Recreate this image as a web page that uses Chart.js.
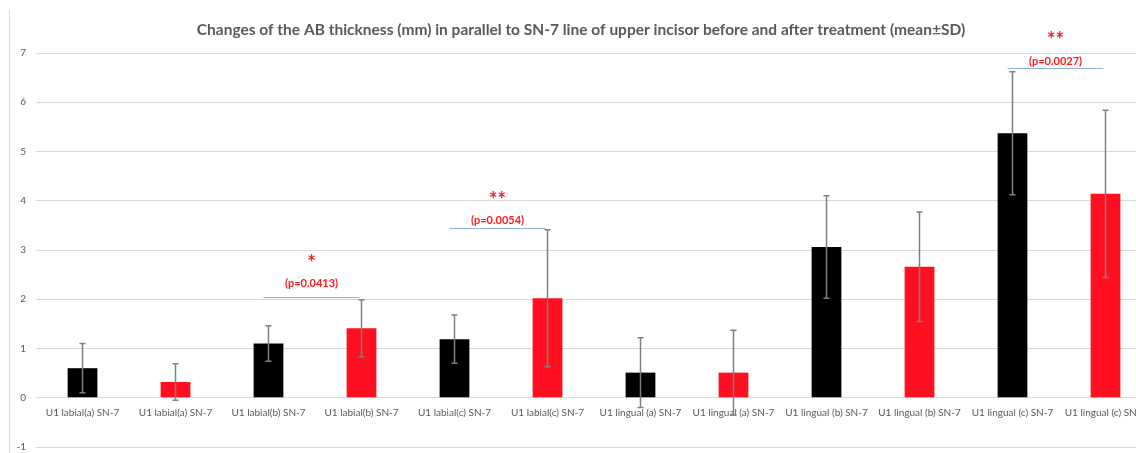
<!DOCTYPE html>
<html>
<head>
<meta charset="utf-8">
<script src="https://cdn.jsdelivr.net/npm/chart.js@4/dist/chart.umd.min.js"></script>
<style>
  html, body { margin: 0; padding: 0; background: #fff; overflow: hidden; }
  #wrap { position: relative; width: 1160px; height: 453px; overflow: hidden; }
  #frame { position: absolute; left: 9px; top: 10px; bottom: 0; border-left: 1px solid #d9d9d9; }
</style>
</head>
<body>
<div id="wrap">
  <div id="frame"></div>
  <canvas id="abChart" width="1160" height="463"></canvas>
</div>
<script>
// categories (before = black, after = red)
const categories = [
  'U1 labial(a) SN-7', 'U1 labial(a) SN-7',
  'U1 labial(b) SN-7', 'U1 labial(b) SN-7',
  'U1 labial(c) SN-7', 'U1 labial(c) SN-7',
  'U1 lingual (a) SN-7', 'U1 lingual (a) SN-7',
  'U1 lingual (b) SN-7', 'U1 lingual (b) SN-7',
  'U1 lingual (c) SN-7', 'U1 lingual (c) SN-7'
];
const meanValues = [0.60, 0.32, 1.10, 1.41, 1.19, 2.02, 0.51, 0.51, 3.06, 2.66, 5.37, 4.14];
const sdValues = [0.50, 0.37, 0.36, 0.58, 0.49, 1.39, 0.71, 0.86, 1.04, 1.11, 1.25, 1.70];
const barColors = ['#000000', '#ff0f1f', '#000000', '#ff0f1f', '#000000', '#ff0f1f',
                   '#000000', '#ff0f1f', '#000000', '#ff0f1f', '#000000', '#ff0f1f'];
const yTicks = [-1, 0, 1, 2, 3, 4, 5, 6, 7];

// significance marks: first bar index of pair, line level, text level, star level
const sigFrom = [2, 4, 10];
const sigLine = [2.055, 3.44, 6.70];
const sigTextAt = [2.33, 3.59, 6.83];
const sigStarAt = [2.80, 4.08, 7.33];
const sigText = ['(p=0.0413)', '(p=0.0054)', '(p=0.0027)'];
const sigStars = ['*', '**', '**'];

// error bars (mean ± SD)
const errorBars = {
  id: 'errorBars',
  afterDatasetsDraw(chart) {
    const ctx = chart.ctx;
    const x = chart.scales.x, y = chart.scales.y;
    ctx.save();
    ctx.strokeStyle = '#7f7f7f';
    ctx.lineWidth = 1.5;
    meanValues.forEach((m, i) => {
      const cx = x.getPixelForValue(i);
      const top = y.getPixelForValue(m + sdValues[i]);
      const bot = y.getPixelForValue(m - sdValues[i]);
      ctx.beginPath();
      ctx.moveTo(cx, top); ctx.lineTo(cx, bot);
      ctx.moveTo(cx - 3, top); ctx.lineTo(cx + 3, top);
      ctx.moveTo(cx - 3, bot); ctx.lineTo(cx + 3, bot);
      ctx.stroke();
    });
    ctx.restore();
  }
};

// significance lines with p-values
const sigMarks = {
  id: 'sigMarks',
  afterDraw(chart) {
    const ctx = chart.ctx;
    const x = chart.scales.x, y = chart.scales.y;
    ctx.save();
    ctx.textAlign = 'center';
    ctx.textBaseline = 'middle';
    sigFrom.forEach((i, k) => {
      const x1 = x.getPixelForValue(i) - 5;
      const x2 = x.getPixelForValue(i + 1) - 2;
      const ly = Math.round(y.getPixelForValue(sigLine[k])) + 0.5;
      const mid = (x1 + x2) / 2;
      ctx.strokeStyle = '#8fb4e3';
      ctx.lineWidth = 1;
      ctx.beginPath();
      ctx.moveTo(x1, ly); ctx.lineTo(x2, ly);
      ctx.stroke();
      ctx.fillStyle = '#ff1a1a';
      ctx.font = 'bold 11px Lato, "Open Sans", sans-serif';
      ctx.fillText(sigText[k], mid, y.getPixelForValue(sigTextAt[k]));
      ctx.font = 'bold 20px Lato, "Open Sans", sans-serif';
      ctx.fillText(sigStars[k], mid, y.getPixelForValue(sigStarAt[k]) + 4);
    });
    ctx.restore();
  }
};

const ctx = document.getElementById('abChart').getContext('2d');
new Chart(ctx, {
  type: 'bar',
  data: {
    labels: categories,
    datasets: [{
      data: meanValues,
      backgroundColor: barColors,
      borderWidth: 0,
      barPercentage: 0.32,
      categoryPercentage: 1
    }]
  },
  options: {
    responsive: false,
    animation: false,
    layout: { padding: { left: 10, right: 8, top: 12, bottom: 6 } },
    plugins: {
      legend: { display: false },
      tooltip: { enabled: false },
      title: {
        display: true,
        text: 'Changes of the AB thickness (mm) in parallel to SN-7 line of upper incisor before and after treatment (mean±SD)',
        color: '#595959',
        font: { family: 'Lato, "Open Sans", sans-serif', size: 15.5, weight: 'bold', lineHeight: 1.2 },
        padding: { top: 8.7, bottom: 13.7 }
      }
    },
    scales: {
      x: {
        position: { y: 0 },
        grid: { display: false, drawTicks: false },
        border: { display: false },
        ticks: {
          color: '#595959',
          font: { family: 'Lato, "Open Sans", sans-serif', size: 10 },
          maxRotation: 0,
          autoSkip: false,
          padding: 9
        }
      },
      y: {
        min: -1,
        max: 7,
        afterBuildTicks: (s) => { s.ticks = yTicks.map(v => ({ value: v })); },
        afterFit: (s) => { s.width = 26; },
        grid: { color: '#d9d9d9', lineWidth: 1, drawTicks: false },
        border: { display: false },
        ticks: {
          color: '#595959',
          font: { family: 'Lato, "Open Sans", sans-serif', size: 10 },
          padding: 10
        }
      }
    }
  },
  plugins: [errorBars, sigMarks]
});
</script>
</body>
</html>
